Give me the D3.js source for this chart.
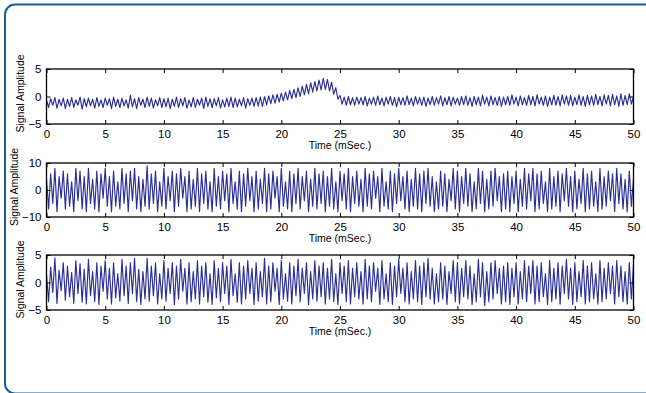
<!DOCTYPE html>
<html>
<head>
<meta charset="utf-8">
<script src="https://cdn.jsdelivr.net/npm/d3@7/dist/d3.min.js"></script>
<style>
  html, body { margin: 0; padding: 0; background: #fff; }
  svg { display: block; font-family: "Liberation Sans", Arial, sans-serif; }
</style>
</head>
<body>
<div id="chart"></div>
<script>
// time axis (mSec.), samples evenly spread over [0, 50]
const timeDomain = [0, 50];
const xTicks = [0, 5, 10, 15, 20, 25, 30, 35, 40, 45, 50];

// panel 1: noisy baseline with a bump around 23.5
const signal1 = [
  -0.6,-2.0,-0.4,-1.6,-0.2,-2.1,-0.5,-1.7,-0.3,-2.2,
  -0.5,-1.8,-0.2,-2.0,-0.6,-1.6,-0.1,-2.3,-0.4,-1.9,
  -0.3,-1.7,-0.5,-2.1,-0.2,-1.8,-0.6,-2.0,-0.3,-1.6,
  -0.4,-2.2,-0.1,-1.8,-0.5,-2.0,-0.3,-1.7,-0.6,-2.1,
  0.2,-1.9,-0.4,-2.2,-0.2,-1.6,-0.5,-2.0,-0.1,-1.8,
  -0.3,-2.1,-0.6,-1.7,-0.2,-2.0,-0.4,-1.9,-0.3,-2.2,
  -0.5,-1.8,-0.1,-2.0,-0.4,-1.7,-0.2,-2.1,-0.6,-1.9,
  -0.2,-2.0,-0.5,-1.6,-0.3,-2.2,-0.1,-1.8,-0.4,-2.0,
  -0.4,-1.7,-0.2,-2.1,-0.6,-1.9,-0.3,-1.8,-0.1,-2.0,
  -0.3,-1.9,-0.5,-1.7,-0.2,-2.1,-0.4,-1.6,-0.3,-1.8,
  -0.2,-1.7,-0.1,-1.8,0.0,-1.5,0.1,-1.3,0.3,-1.2,
  0.4,-1.0,0.6,-0.8,0.8,-0.6,1.1,-0.4,1.3,-0.2,
  1.6,0.0,1.9,0.3,2.2,0.5,2.5,0.8,2.7,1.0,
  3.0,1.2,3.3,1.3,3.1,1.0,2.6,0.4,1.6,-0.5,
  0.2,-1.4,-0.1,-1.6,0.0,-1.5,-0.2,-1.6,-0.1,-1.4,
  -0.2,-1.5,0.0,-1.7,-0.3,-1.4,-0.1,-1.6,0.1,-1.5,
  -0.3,-1.7,-0.1,-1.4,0.0,-1.6,-0.2,-1.9,-0.1,-1.5,
  -0.2,-1.6,0.1,-1.5,-0.3,-1.7,0.0,-1.4,-0.2,-1.6,
  -0.1,-1.8,-0.3,-1.5,0.0,-1.6,-0.2,-1.4,0.1,-1.7,
  -0.2,-1.5,0.0,-1.7,-0.1,-1.4,-0.3,-1.6,0.0,-1.5,
  0.1,-1.6,-0.2,-1.8,0.0,-1.5,-0.1,-1.7,0.2,-1.4,
  -0.1,-1.7,0.1,-1.5,-0.2,-1.6,0.0,-1.8,-0.1,-1.5,
  0.0,-1.6,0.3,-1.4,-0.1,-1.7,0.1,-1.5,-0.2,-1.6,
  0.2,-1.5,0.0,-1.7,0.3,-1.4,-0.1,-1.6,0.1,-1.8,
  -0.1,-1.5,0.2,-1.6,0.0,-1.7,0.3,-1.4,0.1,-1.6,
  0.2,-1.7,-0.1,-1.5,0.3,-1.6,0.0,-1.8,0.2,-1.5,
  0.1,-1.6,0.4,-1.5,0.0,-1.7,0.3,-1.4,0.2,-1.7,
  0.4,-1.5,0.1,-1.8,0.5,-1.6,0.2,-1.5,0.5,-1.4,
  0.0
];

// panel 2: strong beating oscillation
const signal2 = [
  4,-7,6,-5,8,-8,5,-3,7,-7,
  6,-6,3,-8,8,-4,7,-7,5,-8,
  8,-5,4,-7,7,-8,6,-3,8,-6,
  5,-8,7,-6,3,-7,8,-5,6,-8,
  7,-4,8,-7,5,-8,4,-6,9,-7,
  6,-5,7,-8,3,-6,8,-7,5,-4,
  7,-8,6,-6,8,-3,5,-8,7,-7,
  4,-6,8,-8,6,-5,7,-7,3,-8,
  8,-6,5,-7,7,-4,6,-8,8,-5,
  3,-7,7,-8,6,-6,8,-4,5,-8,
  7,-7,4,-5,8,-8,6,-7,7,-3,
  5,-8,8,-6,3,-7,7,-8,6,-5,
  8,-7,5,-4,7,-8,4,-6,8,-7,
  6,-5,7,-8,5,-6,8,-7,3,-8,
  7,-4,6,-7,8,-8,5,-5,7,-6,
  4,-8,8,-6,6,-7,7,-3,5,-8,
  8,-6,3,-7,7,-8,6,-5,8,-4,
  5,-7,7,-8,4,-6,8,-7,6,-8,
  7,-5,8,-6,5,-8,3,-7,7,-6,
  6,-8,4,-4,8,-7,7,-8,5,-5,
  8,-6,6,-8,3,-7,8,-5,7,-8,
  4,-7,7,-6,8,-4,5,-8,6,-7,
  7,-8,5,-5,7,-8,4,-6,8,-7,
  6,-4,8,-8,6,-7,7,-5,3,-8,
  8,-7,5,-6,7,-8,6,-4,8,-6,
  5,-8,7,-7,4,-5,8,-8,6,-7,
  7,-6,3,-8,8,-7,5,-6,7,-4,
  6,-8,8,-5,6,-7,4,-8,7,-6,
  4
];

// panel 3: weaker beating oscillation
const signal3 = [
  1.5,-3.5,2.8,-1.8,4.5,-3.8,2.2,-1.5,3.6,-3.2,
  3.0,-2.6,1.8,-3.8,4.0,-2.0,3.4,-3.6,2.4,-3.9,
  4.2,-2.4,2.0,-3.5,3.6,-4.0,3.0,-1.6,4.0,-3.0,
  2.6,-3.9,3.6,-2.8,1.6,-3.4,4.2,-2.4,3.0,-3.8,
  3.6,-2.0,4.4,-3.5,2.4,-4.0,2.0,-3.0,4.4,-3.4,
  3.0,-2.4,3.6,-3.9,1.6,-3.0,4.0,-3.4,2.6,-2.0,
  3.6,-4.0,3.0,-3.0,4.2,-1.6,2.6,-3.9,3.6,-3.5,
  2.0,-3.0,4.0,-3.9,3.0,-2.6,3.6,-3.6,1.6,-4.0,
  4.0,-2.8,2.6,-3.5,3.6,-2.0,3.0,-4.0,4.2,-2.4,
  1.6,-3.6,3.6,-3.9,3.0,-3.0,4.0,-2.0,2.6,-4.0,
  3.6,-3.4,2.0,-2.6,4.4,-3.9,3.0,-3.5,3.6,-1.6,
  2.6,-4.0,4.0,-3.0,1.6,-3.4,3.6,-3.9,3.0,-2.4,
  4.2,-3.5,2.6,-2.0,3.6,-4.0,2.0,-3.0,4.0,-3.4,
  3.0,-2.6,3.6,-3.9,2.6,-3.0,4.2,-3.5,1.6,-4.0,
  3.6,-2.0,3.0,-3.5,4.0,-3.9,2.6,-2.6,3.6,-3.0,
  2.0,-3.9,4.2,-3.0,3.0,-3.5,3.6,-1.6,2.6,-4.0,
  4.0,-3.0,1.6,-3.5,3.6,-4.0,3.0,-2.6,4.2,-2.0,
  2.6,-3.5,3.6,-3.9,2.0,-3.0,4.0,-3.5,3.0,-4.0,
  3.6,-2.6,4.4,-3.0,2.6,-3.9,1.6,-3.5,3.6,-3.0,
  3.0,-4.0,2.0,-2.0,4.0,-3.5,3.6,-3.9,2.6,-2.6,
  4.0,-3.0,3.0,-4.0,1.6,-3.5,4.2,-2.6,3.6,-4.2,
  2.0,-3.5,3.6,-3.0,4.0,-2.0,2.6,-3.9,3.0,-3.5,
  3.6,-4.0,2.6,-2.6,3.6,-3.9,2.0,-3.0,4.0,-3.5,
  3.0,-2.0,4.0,-3.9,3.0,-3.5,3.6,-2.6,1.6,-4.0,
  4.0,-3.5,2.6,-3.0,3.6,-3.9,3.0,-2.0,4.2,-3.0,
  2.6,-4.0,3.6,-3.5,2.0,-2.6,4.0,-3.9,3.0,-3.5,
  3.6,-3.0,1.6,-3.9,4.0,-3.5,2.6,-3.0,3.6,-2.0,
  3.0,-3.9,4.0,-2.6,3.0,-3.5,2.0,-3.9,3.6,-3.0,
  3.2
];

const yDomains = [[-5, 5], [-10, 10], [-5, 5]];
const yTicks = [[-5, 0, 5], [-10, 0, 10], [-5, 0, 5]];
const xLabel = "Time (mSec.)";
const yLabel = "Signal Amplitude";

const W = 646, H = 393;
const plotLeft = 46.5, plotRight = 633.5;
const panels = [
  { top: 69, bottom: 124, data: signal1, ylabX: 20 },
  { top: 163, bottom: 217, data: signal2, ylabX: 14 },
  { top: 255, bottom: 310, data: signal3, ylabX: 20 }
];
const lineColor = "#2b2f94";

const svg = d3.select("#chart").append("svg")
  .attr("width", W)
  .attr("height", H);

// outer rounded frame (right and bottom run off the picture)
svg.append("rect")
  .attr("x", 5).attr("y", 4.5)
  .attr("width", 650).attr("height", 389)
  .attr("rx", 10).attr("ry", 10)
  .attr("fill", "none")
  .attr("stroke", "#1a5e93")
  .attr("stroke-width", 2);

const x = d3.scaleLinear().domain(timeDomain).range([plotLeft, plotRight]);

panels.forEach((p, k) => {
  const y = d3.scaleLinear().domain(yDomains[k]).range([p.bottom, p.top]);
  const n = p.data.length;
  const pts = p.data.map((v, i) => ({ t: timeDomain[0] + i * (timeDomain[1] - timeDomain[0]) / (n - 1), v }));

  const g = svg.append("g");

  // signal
  g.append("path")
    .datum(pts)
    .attr("fill", "none")
    .attr("stroke", lineColor)
    .attr("stroke-width", 1.15)
    .attr("stroke-linejoin", "round")
    .attr("d", d3.line().x(d => x(d.t)).y(d => y(d.v)));

  // inside ticks, all four sides
  const tl = 4;
  g.append("g")
    .attr("transform", `translate(0,${p.bottom})`)
    .call(d3.axisBottom(x).tickValues(xTicks).tickSizeInner(-tl).tickSizeOuter(0).tickPadding(6))
    .call(a => a.select(".domain").remove())
    .call(a => a.selectAll("text").attr("font-size", 11.5).attr("fill", "#000").attr("font-family", "Liberation Sans, Arial, sans-serif"));
  g.append("g")
    .attr("transform", `translate(0,${p.top})`)
    .call(d3.axisTop(x).tickValues(xTicks).tickSizeInner(-tl).tickSizeOuter(0).tickFormat(""))
    .call(a => a.select(".domain").remove());
  g.append("g")
    .attr("transform", `translate(${plotLeft},0)`)
    .call(d3.axisLeft(y).tickValues(yTicks[k]).tickSizeInner(-tl).tickSizeOuter(0).tickPadding(5)
      .tickFormat(d => d < 0 ? "\u2212" + Math.abs(d) : String(d)))
    .call(a => a.select(".domain").remove())
    .call(a => a.selectAll("text").attr("font-size", 11.5).attr("fill", "#000").attr("font-family", "Liberation Sans, Arial, sans-serif"));
  g.append("g")
    .attr("transform", `translate(${plotRight},0)`)
    .call(d3.axisRight(y).tickValues(yTicks[k]).tickSizeInner(-tl).tickSizeOuter(0).tickFormat(""))
    .call(a => a.select(".domain").remove());
  g.selectAll(".tick line").attr("stroke", "#000");

  // axes box
  g.append("rect")
    .attr("x", plotLeft).attr("y", p.top)
    .attr("width", plotRight - plotLeft).attr("height", p.bottom - p.top)
    .attr("fill", "none")
    .attr("stroke", "#000")
    .attr("stroke-width", 1.3);

  // x label
  g.append("text")
    .attr("x", (plotLeft + plotRight) / 2)
    .attr("y", p.bottom + 25)
    .attr("text-anchor", "middle")
    .attr("font-size", 10.5)
    .attr("fill", "#000")
    .text(xLabel);

  // y label
  g.append("text")
    .attr("transform", `translate(${p.ylabX + 4},${(p.top + p.bottom) / 2 - 3}) rotate(-90)`)
    .attr("text-anchor", "middle")
    .attr("font-size", 10.5)
    .attr("fill", "#000")
    .text(yLabel);
});
</script>
</body>
</html>
